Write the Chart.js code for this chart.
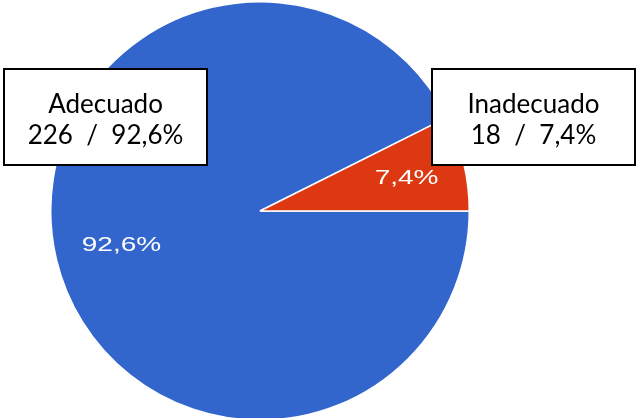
<!DOCTYPE html>
<html>
<head>
<meta charset="utf-8">
<script src="https://cdn.jsdelivr.net/npm/chart.js@4/dist/chart.umd.min.js"></script>
<style>
  html, body { margin: 0; padding: 0; background: #fff; overflow: hidden; }
  #wrap { position: relative; width: 636px; height: 422px; }
</style>
</head>
<body>
<div id="wrap"><canvas id="pie-chart"></canvas></div>
<script>
// datos
var labels = ["Adecuado", "Inadecuado"];
var values = [226, 18];
var colors = ["#3366CC", "#DC3912"];

var total = values.reduce((a, b) => a + b, 0);
function pct(v) {
  return ((v * 100) / total).toFixed(1).replace(".", ",") + "%";
}

// caja con etiqueta de cada porcion
var boxes = [
  { x: 4, y: 69, w: 203, h: 96 },
  { x: 432, y: 69, w: 203, h: 96 }
];

var labelsPlugin = {
  id: "sliceLabels",
  afterDatasetsDraw(chart) {
    var c = chart.ctx;
    var meta = chart.getDatasetMeta(0);
    meta.data.forEach((arc, i) => {
      var p = arc.getProps(["x", "y", "startAngle", "endAngle", "outerRadius"], true);
      var mid = (p.startAngle + p.endAngle) / 2;
      var r = p.outerRadius * 0.7;
      c.save();
      c.translate(p.x + Math.cos(mid) * r + 4, p.y + Math.sin(mid) * r + 1);
      c.scale(1.4, 1);
      c.fillStyle = "#fff";
      c.font = "20px 'Liberation Sans', Arial, sans-serif";
      c.textAlign = "center";
      c.textBaseline = "middle";
      c.fillText(pct(values[i]), 0, 0);
      c.restore();
    });
  },
  afterDraw(chart) {
    var c = chart.ctx;
    c.save();
    boxes.forEach((b, i) => {
      c.fillStyle = "#fff";
      c.fillRect(b.x, b.y, b.w, b.h);
      c.strokeStyle = "#000";
      c.lineWidth = 2;
      c.strokeRect(b.x, b.y, b.w, b.h);
      c.fillStyle = "#000";
      c.font = "26px Lato, 'Open Sans', sans-serif";
      c.textAlign = "center";
      c.textBaseline = "alphabetic";
      var cx = b.x + b.w / 2;
      c.fillText(labels[i], cx, b.y + 44);
      c.fillText(values[i] + "  /  " + pct(values[i]), cx, b.y + 75);
    });
    c.restore();
  }
};

var ctx = document.getElementById("pie-chart").getContext("2d");
var myPieChart = new Chart(ctx, {
  type: "pie",
  data: {
    labels: labels,
    datasets: [
      {
        data: values,
        backgroundColor: colors,
        borderColor: "#ffffff",
        borderWidth: 1.5
      }
    ]
  },
  options: {
    responsive: true,
    maintainAspectRatio: false,
    animation: false,
    rotation: 90,
    layout: { padding: { top: 1, bottom: 1, left: 0, right: 116 } },
    plugins: {
      legend: { display: false },
      tooltip: { enabled: false }
    }
  },
  plugins: [labelsPlugin]
});
</script>
</body>
</html>
